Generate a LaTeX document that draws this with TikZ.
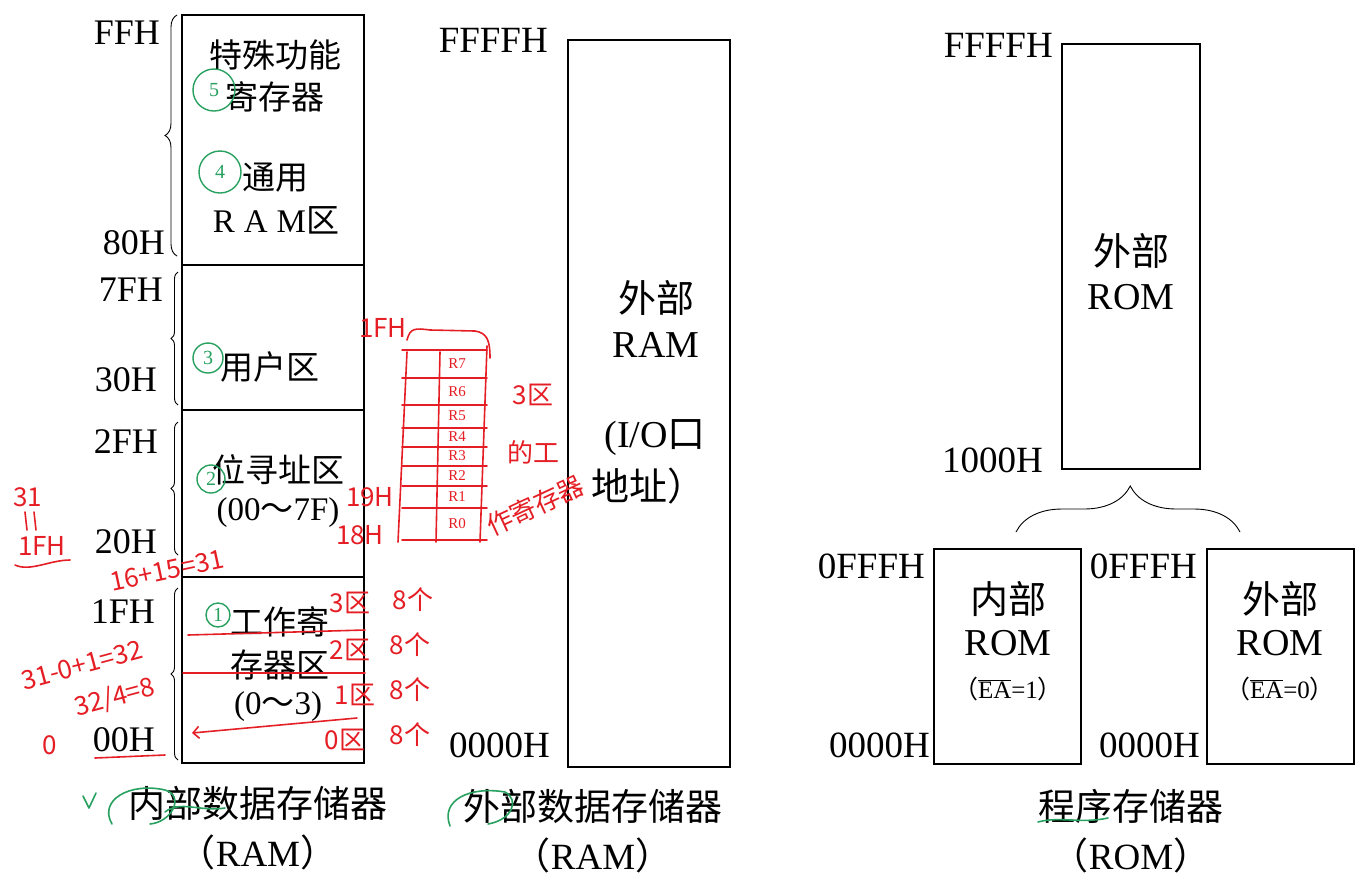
\documentclass[tikz,border=0pt]{standalone}
\usepackage{fontspec}
\setmainfont{Liberation Serif}
\newfontfamily\cjk{Noto Sans CJK SC}
\usetikzlibrary{decorations.pathreplacing,arrows.meta}
\definecolor{redpen}{RGB}{228,30,36}
\definecolor{greenpen}{RGB}{40,160,95}
\tikzset{
  box/.style={draw, line width=1.1pt, inner sep=0pt},
  addr/.style={anchor=east, inner sep=0pt, font=\fontsize{36}{40}\selectfont},
  intxt/.style={inner sep=0pt, font=\fontsize{33}{36}\selectfont, align=center},
  bigtxt/.style={inner sep=0pt, font=\fontsize{38}{42}\selectfont, align=center},
  captxt/.style={inner sep=0pt, font=\fontsize{37}{40}\selectfont, align=center},
  smalltxt/.style={inner sep=0pt, font=\fontsize{25}{28}\selectfont},
  brc/.style={decorate, line width=0.9pt},
  redink/.style={redpen, line width=1.6pt, line cap=round, line join=round},
  redtxt/.style={redpen, inner sep=0pt, font=\cjk\fontsize{26}{28}\selectfont},
  greenink/.style={greenpen, line width=1.6pt, line cap=round, line join=round},
  circnum/.style={greenpen, draw, circle, line width=1.4pt, inner sep=0pt, font=\fontsize{20}{22}\selectfont},
}
\begin{document}
\begin{tikzpicture}[x=1pt,y=-1pt]
\useasboundingbox (0,0) rectangle (1371,884);

% ---------- internal data RAM ----------
\node[box, minimum width=182pt, minimum height=748pt] (ram) at (273,389) {};
\coordinate (d1l) at (182,265); \coordinate (d1r) at (364,265);
\coordinate (d2l) at (182,410); \coordinate (d2r) at (364,410);
\coordinate (d3l) at (182,577); \coordinate (d3r) at (364,577);
\draw[line width=1.1pt] (d1l) -- (d1r) (d2l) -- (d2r) (d3l) -- (d3r);

\node[intxt] (sfr1) at (275,55) {\cjk 特殊功能};
\node[intxt] (sfr2) at (275,97) {\cjk 寄存器};
\node[intxt] (gen1) at (275,178) {\cjk 通用};
\node[intxt] (gen2) at (276,220) {R\hspace{9pt}A\hspace{9pt}M{\cjk 区}};
\node[intxt] (user) at (270,367) {\cjk 用户区};
\node[intxt] (bit1) at (278,470) {\cjk 位寻址区};
\node[intxt] (bit2) at (278,513) {(00{\cjk ～}7F)};
\node[intxt] (wr1) at (280,622) {\cjk 工作寄};
\node[intxt] (wr2) at (280,665) {\cjk 存器区};
\node[intxt] (wr3) at (278,707) {(0{\cjk ～}3)};

\node[addr] (aFF) at (160,33) {FFH};
\node[addr] (a80) at (165,243) {80H};
\node[addr] (a7F) at (163,290) {7FH};
\node[addr] (a30) at (157,380) {30H};
\node[addr] (a2F) at (158,442) {2FH};
\node[addr] (a20) at (157,542) {20H};
\node[addr] (a1F) at (155,612) {1FH};
\node[addr] (a00) at (155,740) {00H};

\draw[brc, decoration={brace, amplitude=12pt}] (177,256) -- (177,15);
\draw[brc, decoration={brace, amplitude=7pt}] (178,405) -- (178,272);
\draw[brc, decoration={brace, amplitude=7pt}] (178,555) -- (178,422);
\draw[brc, decoration={brace, amplitude=7pt}] (178,760) -- (178,588);

\node[captxt] (cap1a) at (258,803) {\cjk 内部数据存储器};
\node[captxt] (cap1b) at (258,852) {{\cjk （}RAM{\cjk ）}};

% ---------- external data RAM ----------
\node[box, minimum width=162pt, minimum height=727pt] (xram) at (649,403.5) {};
\node[bigtxt] (x1) at (656,298) {\cjk 外部};
\node[bigtxt] (x2) at (656,345) {RAM};
\node[bigtxt] (x3) at (655,438) {(I/O{\cjk 口}};
\node[bigtxt] (x4) at (648,486) {\cjk 地址）};
\node[addr, font=\fontsize{37}{40}\selectfont] (xF) at (548,40) {FFFFH};
\node[addr, font=\fontsize{37}{40}\selectfont] (x0) at (550,745) {0000H};
\node[captxt] (cap2a) at (593,806) {\cjk 外部数据存储器};
\node[captxt] (cap2b) at (593,855) {{\cjk （}RAM{\cjk ）}};

% ---------- program ROM ----------
\node[box, minimum width=138pt, minimum height=425pt] (xrom) at (1131,256.5) {};
\node[bigtxt] (r1) at (1131,251) {\cjk 外部};
\node[bigtxt] (r2) at (1131,297) {ROM};
\node[addr, font=\fontsize{37}{40}\selectfont] (rF) at (1053,45) {FFFFH};
\node[addr, font=\fontsize{37}{40}\selectfont] (r1000) at (1043,460) {1000H};

\node[box, minimum width=147pt, minimum height=215pt] (irom) at (1007.5,656.5) {};
\node[box, minimum width=147pt, minimum height=215pt] (erom) at (1280.5,656.5) {};
\node[bigtxt] (i1) at (1008,599) {\cjk 内部};
\node[bigtxt] (i2) at (1008,643) {ROM};
\node[smalltxt] (i3) at (1008,689) {{\cjk （}$\overline{\mbox{EA}}$=1{\cjk ）}};
\node[bigtxt] (e1) at (1280,599) {\cjk 外部};
\node[bigtxt] (e2) at (1280,643) {ROM};
\node[smalltxt] (e3) at (1280,689) {{\cjk （}$\overline{\mbox{EA}}$=0{\cjk ）}};
\node[addr, font=\fontsize{37}{40}\selectfont] (iF) at (925,566) {0FFFH};
\node[addr, font=\fontsize{37}{40}\selectfont] (i0) at (930,745) {0000H};
\node[addr, font=\fontsize{37}{40}\selectfont] (eF) at (1197,566) {0FFFH};
\node[addr, font=\fontsize{37}{40}\selectfont] (e0) at (1200,745) {0000H};

\coordinate (brL) at (1016,532);
\coordinate (brR) at (1240,532);
\draw[brc, decoration={brace, amplitude=46pt, aspect=0.51}] (brL) -- (brR);

\node[captxt] (cap3a) at (1131,806) {\cjk 程序存储器};
\node[captxt] (cap3b) at (1131,855) {{\cjk （}ROM{\cjk ）}};

% ---------- green marks ----------
\node[circnum, minimum size=42pt] (g5) at (214,90) {5};
\node[circnum, minimum size=42pt] (g4) at (220,172) {4};
\node[circnum, minimum size=30pt] (g3) at (208,358) {3};
\node[circnum, minimum size=28pt] (g2) at (211,479) {2};
\node[circnum, minimum size=24pt] (g1) at (218,615) {1};
\draw[greenink] (83,796) -- (89,808) -- (96,793);
\draw[greenink] (112,824) .. controls (98,800) and (130,782) .. (165,790)
      .. controls (185,796) and (172,822) .. (150,824);
\draw[greenink] (165,812) .. controls (180,800) and (200,812) .. (225,808);
\draw[greenink] (450,826) .. controls (440,800) and (470,786) .. (505,792)
      .. controls (520,800) and (512,820) .. (488,824);
\draw[greenink] (1038,822) .. controls (1060,816) and (1080,824) .. (1108,818);

% ---------- red pen notes ----------
\node[redtxt] (n31) at (28,497) {31};
\draw[redink] (25,512) -- (27,530) (34,512) -- (36,530);
\node[redtxt] (n1FH) at (42,546) {1FH};
\draw[redink] (15,565) .. controls (30,572) and (50,560) .. (70,560);
\node[redtxt, rotate=12] (nsum) at (167,570) {16+15=31};
\node[redtxt, rotate=15] (ncnt) at (82,665) {31-0+1=32};
\node[redtxt, rotate=15] (ndiv) at (115,698) {32/4=8};
\node[redtxt] (nzero) at (50,745) {0};
\draw[redink] (95,758) -- (165,755);

\draw[redink] (188,635) -- (365,630);
\draw[redink] (183,673) -- (365,673);
\draw[redink, -{Straight Barb[length=6pt]}] (357,718) -- (192,733);

\node[redtxt] (b3) at (350,603) {3区};
\node[redtxt] (b2) at (350,650) {2区};
\node[redtxt] (b1) at (355,695) {1区};
\node[redtxt] (b0) at (345,740) {0区};
\node[redtxt] (c3) at (413,600) {8个};
\node[redtxt] (c2) at (410,645) {8个};
\node[redtxt] (c1) at (410,690) {8个};
\node[redtxt] (c0) at (410,735) {8个};

% register sketch
\node[redtxt] (g1FH) at (383,328) {1FH};
\draw[redink] (407,352) -- (398,542);
\draw[redink] (487,346) -- (480,542);
\draw[redink] (440,352) -- (436,542);
\draw[redink] (407,340) .. controls (410,328) and (415,328) .. (430,330) -- (475,331)
      .. controls (487,333) and (490,340) .. (490,358);
\foreach \yy in {350,378,405,428,447,466,486,508,540}
  \draw[redink] (402,\yy) -- (487,\yy);
\foreach \lab/\yy in {R7/364,R6/392,R5/416,R4/437,R3/456,R2/476,R1/497,R0/524}
  \node[redpen, inner sep=0pt, font=\fontsize{15}{16}\selectfont] at (457,\yy) {\lab};
\node[redtxt] (h19) at (370,497) {19H};
\node[redtxt] (h18) at (360,535) {18H};
\node[redtxt] (z3) at (533,395) {3区};
\node[redtxt] (z4) at (533,452) {的工};
\node[redtxt, rotate=25] (z5) at (535,505) {作寄存器};
\end{tikzpicture}
\end{document}
